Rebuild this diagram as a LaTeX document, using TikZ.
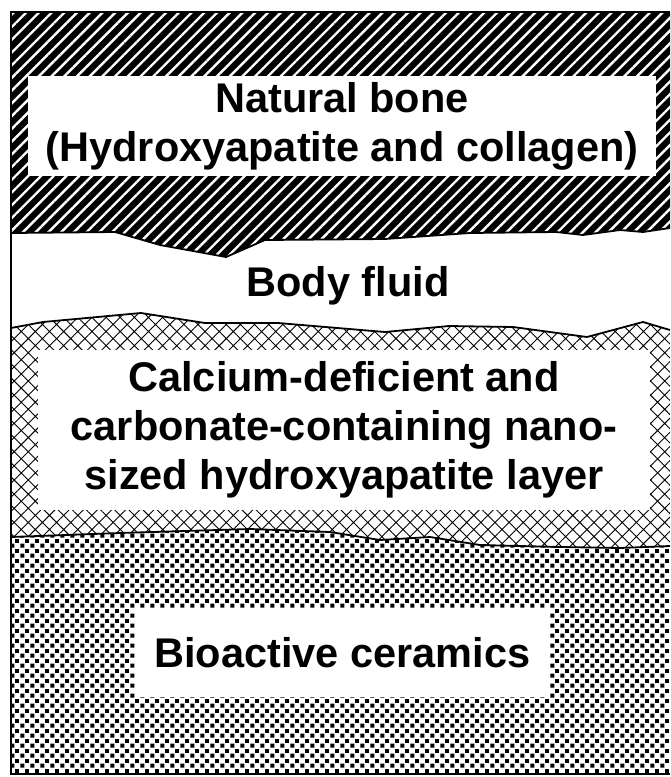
\documentclass[tikz,border=0pt]{standalone}
\usepackage{fontspec}
\setmainfont{Liberation Sans}
\usetikzlibrary{patterns,patterns.meta}

% grain texture of the ceramic
\pgfdeclarepatternformonly{ceramicgrain}{\pgfqpoint{0pt}{0pt}}{\pgfqpoint{10pt}{10pt}}{\pgfqpoint{10pt}{10pt}}{%
  \pgfpathrectangle{\pgfqpoint{0.5pt}{0.5pt}}{\pgfqpoint{4.2pt}{4.2pt}}%
  \pgfpathrectangle{\pgfqpoint{5.5pt}{5.5pt}}{\pgfqpoint{4.2pt}{4.2pt}}%
  \pgfusepath{fill}}

\newcommand{\boneedge}{(11,233) -- (115,232) -- (160,245) -- (226,257) -- (265,240) -- (385,239) -- (470,233) -- (556,232) -- (583,235) -- (620,230) -- (643,232) -- (670,228)}
\newcommand{\fluidedge}{(11,328) -- (43,322) -- (141,313) -- (205,323) -- (278,323) -- (385,332) -- (449,326) -- (513,327) -- (587,337) -- (643,322) -- (670,330)}
\newcommand{\ceramicedge}{(11,537) -- (120,533) -- (250,529) -- (330,532) -- (380,540) -- (430,537) -- (480,545) -- (560,547) -- (620,548) -- (670,546)}

\begin{document}
\begin{tikzpicture}[x=1pt, y=-1pt,
    labelbox/.style={fill=white, inner sep=0pt, align=center,
      font=\fontsize{41.5}{49}\selectfont\bfseries},
    layeredge/.style={line width=1.8pt, line join=round}]
    \useasboundingbox (0,0) rectangle (670,777);

    % Natural bone
    \fill[preaction={fill=black}, pattern={Lines[angle=45, distance=9pt, line width=2.4pt]}, pattern color=white]
      (11,12) -- \boneedge -- (670,12) -- cycle;

    % Nano-sized hydroxyapatite layer
    \fill[pattern={Hatch[angle=45, distance=10pt, line width=0.9pt]}]
      \fluidedge -- (670,546) -- (620,548) -- (560,547) -- (480,545) -- (430,537) -- (380,540) -- (330,532) -- (250,529) -- (120,533) -- (11,537) -- cycle;

    % Bioactive ceramics
    \fill[pattern=ceramicgrain] \ceramicedge -- (670,774) -- (11,774) -- cycle;

    % interfaces and frame
    \draw[layeredge] \boneedge;
    \draw[layeredge] \fluidedge;
    \draw[layeredge] \ceramicedge;
    \draw[line width=2pt] (670,12) -- (11,12) -- (11,774) -- (670,774);

    % labels
    \node[labelbox, minimum width=628pt, minimum height=100pt] (bonebox) at (342,126)
      {Natural bone\\(Hydroxyapatite and collagen)};
    \node[labelbox, fill=none, anchor=base] (fluidlabel) at (348,296) {Body fluid};
    \node[labelbox, minimum width=612pt, minimum height=160pt] (layerbox) at (344,430)
      {Calcium-deficient and\\carbonate-containing nano-\\sized hydroxyapatite layer};
    \node[labelbox, minimum width=415pt, minimum height=89pt] (ceramicbox) at (342.5,652.5)
      {Bioactive ceramics};
\end{tikzpicture}
\end{document}
